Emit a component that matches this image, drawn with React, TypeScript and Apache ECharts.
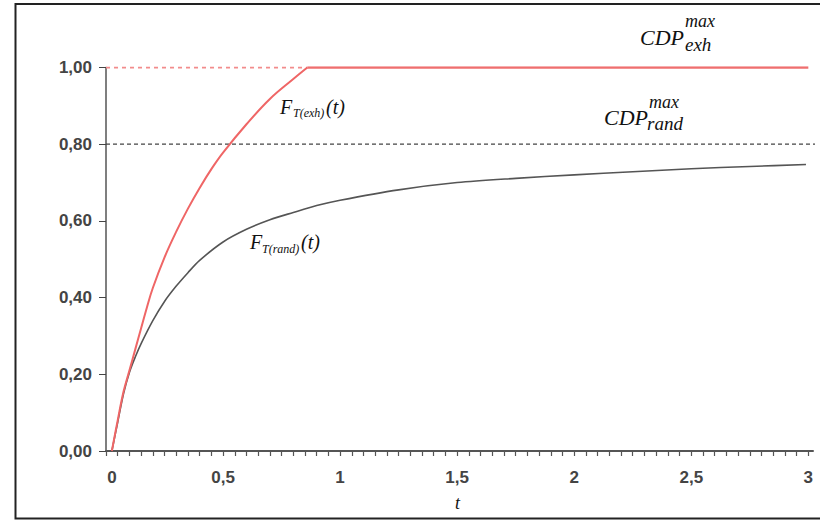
import React, { useEffect, useRef } from "react";
import * as echarts from "echarts";

const xTickLabels = [0, 0.5, 1, 1.5, 2, 2.5, 3];
const yTickLabels = [0, 0.2, 0.4, 0.6, 0.8, 1.0];

const exhT = [0.025, 0.05, 0.075, 0.1, 0.125, 0.15, 0.175, 0.2, 0.25, 0.3, 0.35, 0.4, 0.45, 0.5, 0.6, 0.7, 0.8, 0.86];
const exhF = [0, 0.08, 0.155, 0.21, 0.265, 0.32, 0.375, 0.425, 0.505, 0.572, 0.632, 0.686, 0.735, 0.778, 0.852, 0.918, 0.97, 1.0];
const exhFlatT = [0.86, 3.0];
const exhFlatF = [1.0, 1.0];

const randT = [0.025, 0.05, 0.075, 0.1, 0.125, 0.15, 0.2, 0.25, 0.3, 0.35, 0.4, 0.5, 0.6, 0.7, 0.8, 0.9, 1.0, 1.25, 1.5, 1.75, 2.0, 2.25, 2.5, 2.75, 2.99];
const randF = [0, 0.075, 0.15, 0.205, 0.245, 0.28, 0.34, 0.39, 0.43, 0.465, 0.497, 0.545, 0.578, 0.603, 0.622, 0.64, 0.654, 0.681, 0.7, 0.711, 0.72, 0.728, 0.736, 0.742, 0.747];

const exhMaxLine = [[0, 1.0], [0.86, 1.0]];
const randMaxLine = [[0, 0.8], [3.03, 0.8]];

const serif = '"Liberation Serif", "Times New Roman", serif';
const sans = '"Liberation Sans", Arial, sans-serif';

export default function App() {
  const ref = useRef<HTMLDivElement>(null);
  useEffect(() => {
    document.body.style.margin = "0";
    const chart = echarts.init(ref.current!, null, { renderer: "svg" });
    const minorTicks: number[] = [];
    for (let i = 0; i <= 60; i++) minorTicks.push(Math.round(i * 5) / 100);
    const txt = (text: string, x: number, y: number, size: number) => ({
      type: "text",
      x,
      y,
      silent: true,
      style: {
        text,
        fontFamily: serif,
        fontStyle: "italic",
        fontSize: size,
        fill: "#111",
        align: "left",
        verticalAlign: "middle",
      },
    });
    const labelStyle = { fontFamily: sans, fontSize: 17, fontWeight: "bold", color: "#444" };
    chart.setOption({
      animation: false,
      backgroundColor: "#fff",
      grid: { left: 106, right: 7, top: 67.5, bottom: 69 },
      xAxis: {
        type: "value",
        min: 0,
        max: 3.02,
        axisLine: { show: true, lineStyle: { color: "#555", width: 2 } },
        axisTick: { show: true, customValues: minorTicks, length: 5, lineStyle: { color: "#555", width: 1.2 } },
        splitLine: { show: false },
        axisLabel: {
          customValues: xTickLabels,
          margin: 18,
          ...labelStyle,
          formatter: (v: number) => (v === 0 ? "{z|0}" : String(v).replace(".", ",")),
          rich: { z: { padding: [0, 0, 0, 12], ...labelStyle } },
        },
      },
      yAxis: {
        type: "value",
        min: 0,
        max: 1,
        interval: 0.2,
        axisLine: { show: true, lineStyle: { color: "#555", width: 1.5 } },
        axisTick: { show: true, length: 7, lineStyle: { color: "#444", width: 1 } },
        splitLine: { show: false },
        axisLabel: {
          margin: 14,
          ...labelStyle,
          formatter: (v: number) => v.toFixed(2).replace(".", ","),
        },
      },
      series: [
        {
          type: "line",
          data: exhMaxLine,
          showSymbol: false,
          lineStyle: { color: "#f28c8c", width: 2, type: [4, 4] },
          z: 2,
        },
        {
          type: "line",
          data: randMaxLine,
          showSymbol: false,
          lineStyle: { color: "#444", width: 1.2, type: [4, 3] },
          z: 2,
        },
        {
          type: "line",
          data: randT.map((t, i) => [t, randF[i]]),
          showSymbol: false,
          smooth: 0.3,
          lineStyle: { color: "#555", width: 1.6 },
          z: 3,
        },
        {
          type: "line",
          data: exhT.map((t, i) => [t, exhF[i]]),
          showSymbol: false,
          smooth: 0.4,
          lineStyle: { color: "#ef6666", width: 2 },
          z: 4,
        },
        {
          type: "line",
          data: exhFlatT.map((t, i) => [t, exhFlatF[i]]),
          showSymbol: false,
          lineStyle: { color: "#ef6f6f", width: 2.5 },
          z: 4,
        },
      ],
      graphic: [
        {
          type: "rect",
          shape: { x: 15.5, y: 4, width: 830, height: 514.5 },
          style: { fill: "none", stroke: "#222", lineWidth: 2 },
          silent: true,
        },
        txt("F", 280, 106.5, 20),
        txt("T(exh)", 293, 113, 12),
        txt("(t)", 326, 106.5, 20),
        txt("F", 250, 241.5, 20),
        txt("T(rand)", 262, 249, 12),
        txt("(t)", 301, 241.5, 20),
        txt("CDP", 640, 37.5, 22),
        txt("max", 685, 21, 18),
        txt("exh", 685, 44, 19),
        txt("CDP", 604, 117.5, 22),
        txt("max", 649, 102, 18),
        txt("rand", 647, 123.5, 19),
        txt("t", 455, 503, 18),
      ],
    });
    return () => chart.dispose();
  }, []);
  return <div ref={ref} style={{ width: 820, height: 520 }} />;
}
